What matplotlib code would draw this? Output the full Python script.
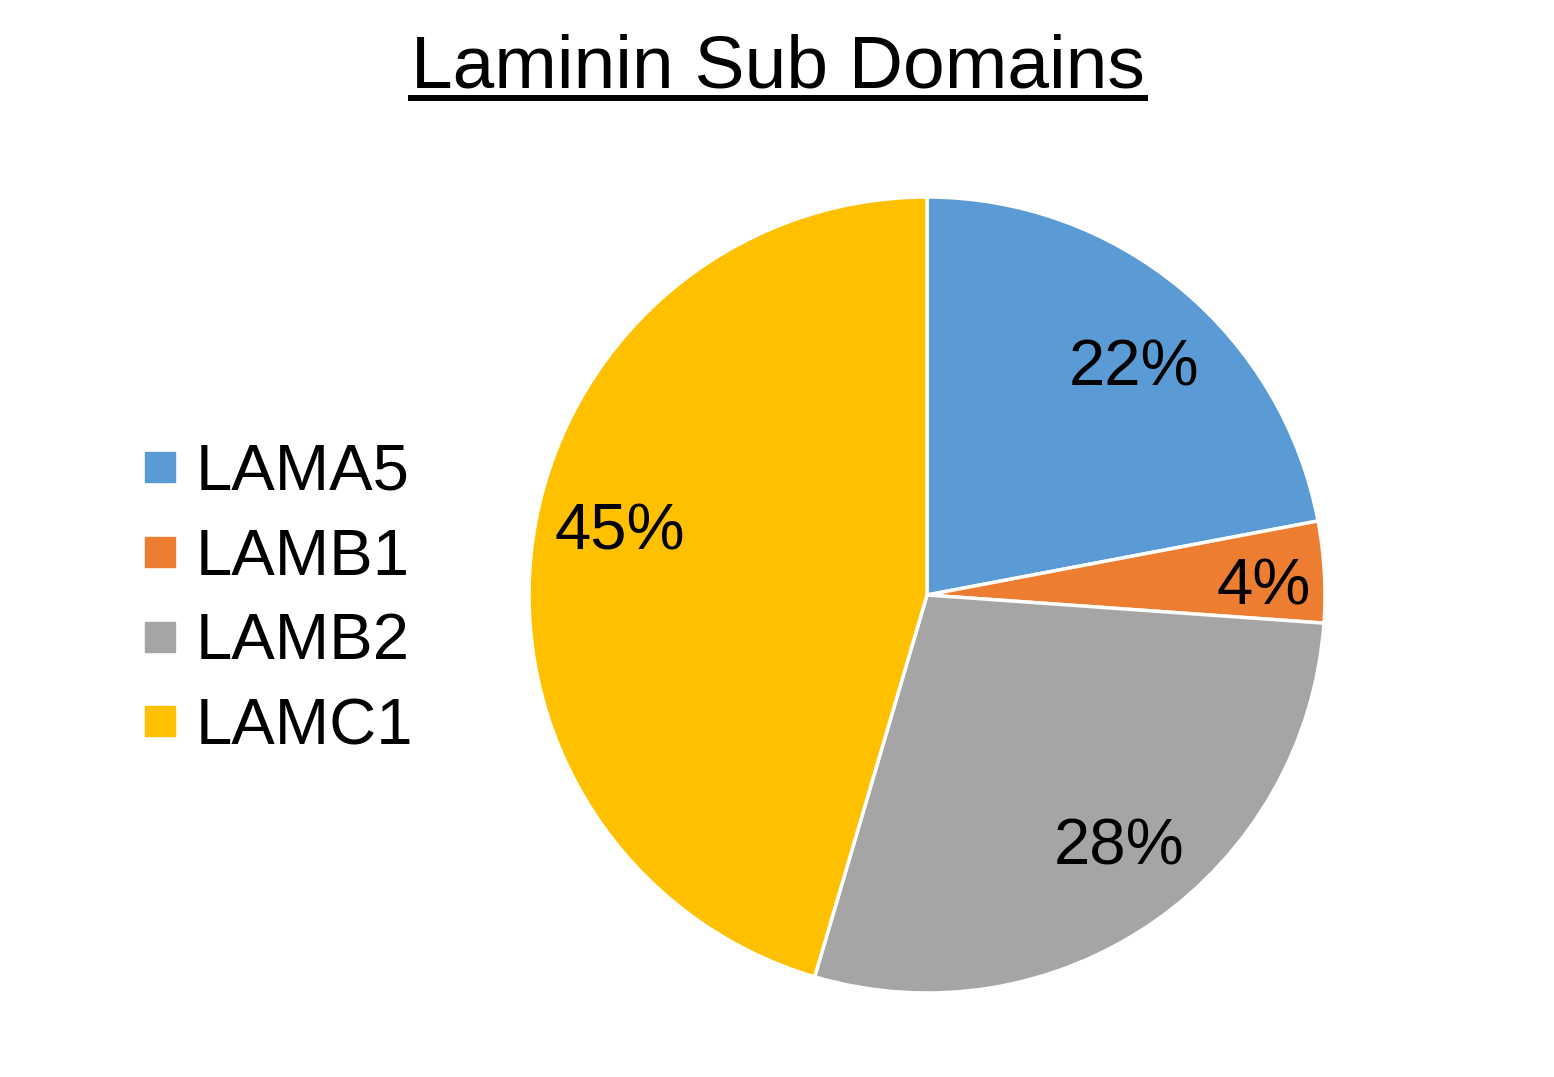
import numpy as np
import matplotlib
matplotlib.use("Agg")
import matplotlib.pyplot as plt
from matplotlib.lines import Line2D

categories = ["LAMA5", "LAMB1", "LAMB2", "LAMC1"]
values = [22.0, 4.1, 28.4, 45.4]
colors = ["#5B9BD5", "#ED7D31", "#A5A5A5", "#FFC000"]
label_dist = [0.783, 0.847, 0.784, 0.791]
label_angle_shift = [-2.0, -0.9, 3.3, -4.5]

plt.rcParams['font.family'] = ['Liberation Sans', 'DejaVu Sans']

W, H = 1554, 1077
fig = plt.figure(figsize=(W / 100, H / 100), dpi=100)
cx, cy, r = 927, 595, 398
ax = fig.add_axes([(cx - r) / W, (H - cy - r) / H, 2 * r / W, 2 * r / H])
wedges, _ = ax.pie(values, colors=colors, startangle=90, counterclock=False,
                   radius=1.0, wedgeprops=dict(edgecolor="white", linewidth=2.5))
ax.set_xlim(-1, 1)
ax.set_ylim(-1, 1)
ax.axis("off")

total = sum(values)
cap_half = 23.5 / r  # half cap height in data units
for w, v, d, s in zip(wedges, values, label_dist, label_angle_shift):
    mid = np.deg2rad((w.theta1 + w.theta2) / 2 + s)
    ax.text(d * np.cos(mid), d * np.sin(mid) - cap_half, f"{round(v / total * 100):.0f}%",
            ha="center", va="baseline", fontsize=47, color="black")

title = fig.text(778 / W, 1 - 87 / H, "Laminin Sub Domains", ha="center", va="baseline",
                 fontsize=54, color="black")

handles = [Line2D([], [], marker="s", linestyle="none", markersize=21.6,
                  markerfacecolor=c, markeredgecolor=c) for c in colors]
fig.legend(handles, categories, loc="center left", bbox_to_anchor=(140 / W, 1 - 600 / H),
           frameon=False, fontsize=47, handlelength=0.6, handletextpad=0.25,
           labelspacing=0.38, borderpad=0, borderaxespad=0)

fig.canvas.draw()
bb = title.get_window_extent(fig.canvas.get_renderer())
uy = (H - 98) / H
fig.add_artist(Line2D([bb.x0 / W, bb.x1 / W], [uy, uy], transform=fig.transFigure,
                      color="black", linewidth=4.3))

fig.savefig("out.png", dpi=100, facecolor="white")
